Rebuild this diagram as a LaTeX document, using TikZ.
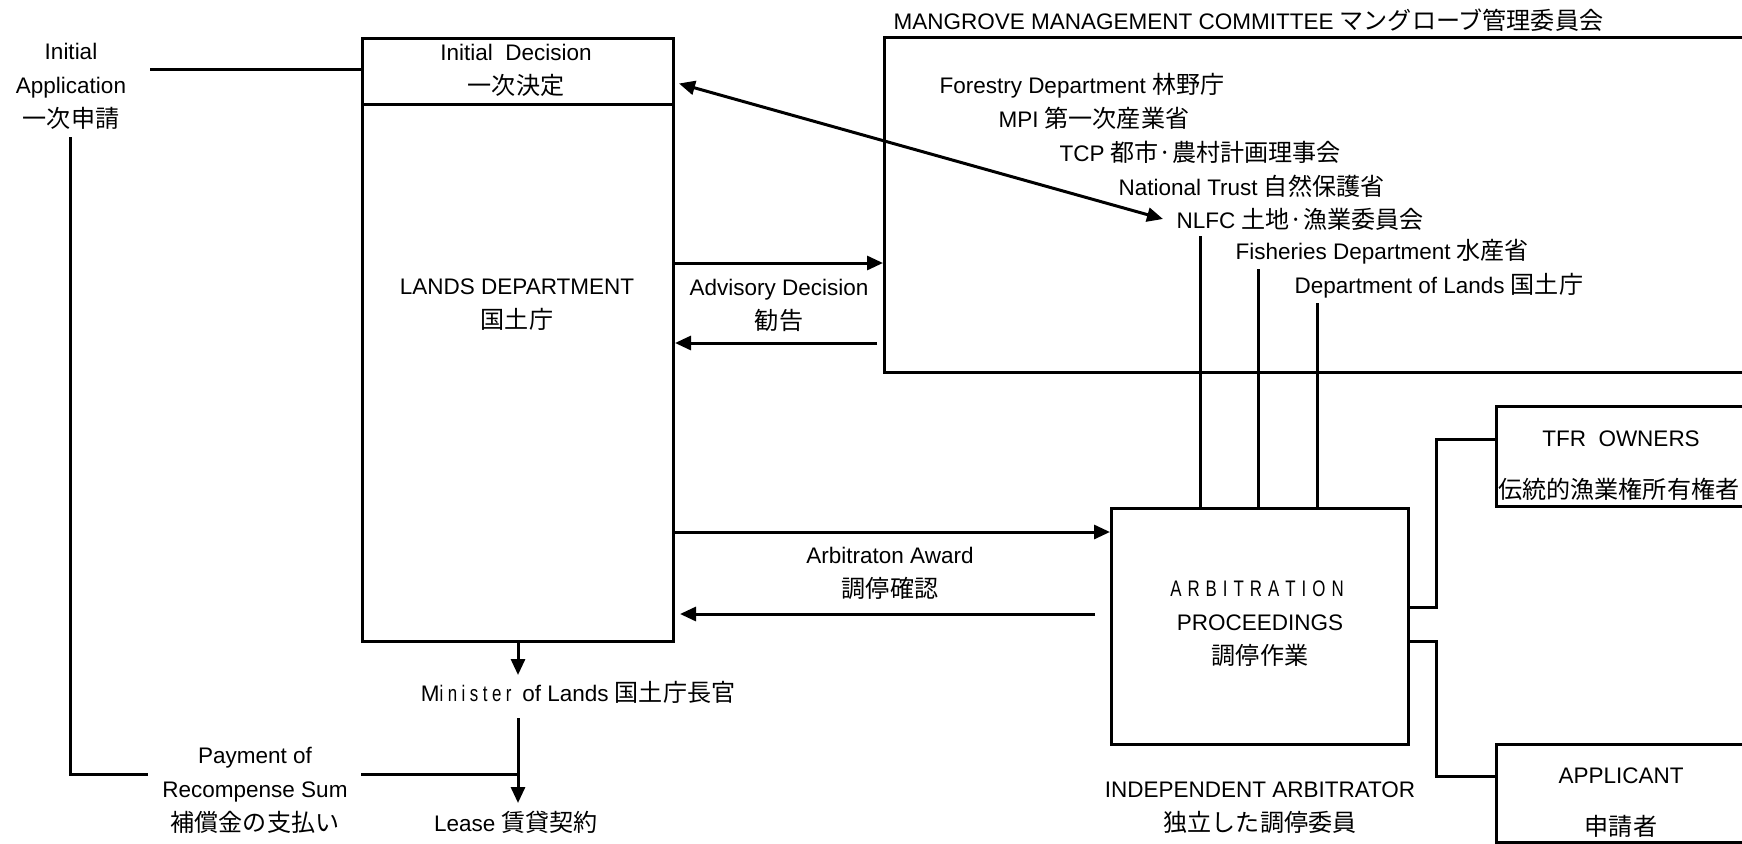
\documentclass[tikz,border=0pt]{standalone}
\usepackage{fontspec}
\setmainfont{Liberation Sans}
\newfontfamily\jpfont{Noto Sans CJK JP}[Scale=1.07]
\newfontfamily\narrowfont{Liberation Sans}[FakeStretch=0.75]
\usetikzlibrary{arrows.meta,calc}

% Japanese text run
\newcommand\jtext[1]{{\jpfont #1}}
% letter-spaced word: \trk{kern}{letters}
\def\trkloop#1{\ifx#1\relax\else#1\kern\trkk\expandafter\trkloop\fi}
\newcommand\trk[2]{\def\trkk{#1}\trkloop#2\relax}

\begin{document}
\begin{tikzpicture}[x=1pt,y=-1pt,
  font=\fontsize{22.5pt}{34pt}\selectfont,
  line width=3pt,
  box/.style={draw, line width=3pt, rectangle, inner sep=0pt, anchor=north west},
  lbl/.style={inner sep=0pt, align=center},
  arr/.style={-{Triangle[length=16pt,width=14pt]}},
  biarr/.style={{Triangle[length=16pt,width=14pt]}-{Triangle[length=16pt,width=14pt]}},
]
\useasboundingbox (0,0) rectangle (1742,843);
\fill[white] (0,0) rectangle (1742,843);
\clip (0,0) rectangle (1742,843);

% ---- Lands Department with its header ----
\node[box, minimum width=311pt, minimum height=603pt] (lands) at (361,37) {};
\node[box, minimum width=311pt, minimum height=66pt] (initdec) at (361,37) {};
\node[lbl] (initdectxt) at (516,70) {Initial~~Decision\\\jtext{一次決定}};
\node[lbl] (landstxt) at (517,305) {LANDS DEPARTMENT\\\jtext{国土庁}};

% ---- Mangrove Management Committee ----
\node[box, minimum width=1000pt, minimum height=335pt] (mgmt) at (883,36) {};
\node[lbl, anchor=west] (mgmttitle) at (892,20) {MANGROVE MANAGEMENT COMMITTEE \jtext{マングローブ管理委員会}};
\node[lbl, anchor=west] (forestry) at (938,86) {Forestry Department \jtext{林野庁}};
\node[lbl, anchor=west] (mpi) at (997,118) {MPI \jtext{第一次産業省}};
\node[lbl, anchor=west] (tcp) at (1058,152) {TCP \jtext{都市·農村計画理事会}};
\node[lbl, anchor=west] (trust) at (1117,186) {National Trust \jtext{自然保護省}};
\node[lbl, anchor=west] (nlfc) at (1175,219) {NLFC \jtext{土地·漁業委員会}};
\node[lbl, anchor=west] (fish) at (1234,252) {Fisheries Department \jtext{水産省}};
\node[lbl, anchor=west] (dol) at (1293,286) {Department of Lands \jtext{国土庁}};

% ---- Arbitration ----
\node[box, minimum width=297pt, minimum height=236pt] (arb) at (1110,507) {};
\node[lbl] (arbtxt) at (1260,624) {{\narrowfont\trk{6pt}{ARBITRATION}}\\PROCEEDINGS\\\jtext{調停作業}};
\node[lbl] (indep) at (1260,808) {INDEPENDENT ARBITRATOR\\\jtext{独立した調停委員}};

% ---- Parties ----
\node[box, minimum width=400pt, minimum height=100pt] (tfr) at (1495,405) {};
\node[lbl] (tfrname) at (1621,439) {TFR~~OWNERS};
\node[lbl, anchor=west] (tfrja) at (1497,489) {\jtext{伝統的漁業権所有権者}};
\node[box, minimum width=400pt, minimum height=98pt] (applicant) at (1495,743) {};
\node[lbl] (appname) at (1621,776) {APPLICANT};
\node[lbl] (appja) at (1621,826) {\jtext{申請者}};

% ---- Free labels ----
\node[lbl] (initapp) at (71,86) {Initial\\Application\\\jtext{一次申請}};
\node[lbl] (advisory) at (779,305) {Advisory Decision\\\jtext{勧告}};
\node[lbl] (award) at (890,573) {Arbitraton Award\\\jtext{調停確認}};
\node[lbl] (minister) at (578,692) {M{\narrowfont\trk{4.5pt}{inister}} of Lands \jtext{国土庁長官}};
\node[lbl] (lease) at (516,822) {Lease \jtext{賃貸契約}};
\node[lbl] (payment) at (255,790) {Payment of\\Recompense Sum\\\jtext{補償金の支払い}};

% ---- Connector levels ----
\coordinate (appOut) at (150,70);
\coordinate (appDown) at (70,137);
\coordinate (payIn) at (148,774);
\coordinate (payOut) at (361,774);
\coordinate (leaseTop) at (0,718);
\coordinate (leaseTip) at (0,803);
\coordinate (advOut) at (0,263);
\coordinate (advIn) at (0,343);
\coordinate (awOut) at (0,532);
\coordinate (awIn) at (0,614);
\coordinate (busX) at (1436,0);
\coordinate (tfrIn) at (0,439);
\coordinate (arbUp) at (0,607);
\coordinate (arbDown) at (0,641);
\coordinate (appIn) at (0,776);

% application and payment path
\draw (appOut) -- (initdec.west |- appOut);
\draw (appDown) |- (payIn);
\draw (payOut) -- (lands.south |- payOut);

% minister and lease
\draw[arr] (lands.south) -- ++(0,32);
\draw[arr] (lands.south |- leaseTop) -- (lands.south |- leaseTip);

% advisory decision
\draw[arr] (lands.east |- advOut) -- (mgmt.west |- advOut);
\draw[arr] ($(mgmt.west |- advIn)+(-6,0)$) -- (lands.east |- advIn);

% initial decision <-> NLFC
\draw[biarr] ($(initdec.east)+(4,12)$) -- ($(nlfc.west)+(-12,0)$);

% arbitration award
\draw[arr] (lands.east |- awOut) -- (arb.west |- awOut);
\draw[arr] ($(arb.west |- awIn)+(-15,0)$) -- ($(lands.east |- awIn)+(5,0)$);

% committee members feeding the arbitration
\coordinate (nlfcDrop) at ($(nlfc.west)+(25,17)$);
\coordinate (fishDrop) at ($(fish.west)+(24,17)$);
\coordinate (dolDrop) at ($(dol.west)+(24,17)$);
\draw (nlfcDrop) -- (arb.north -| nlfcDrop);
\draw (fishDrop) -- (arb.north -| fishDrop);
\draw (dolDrop) -- (arb.north -| dolDrop);

% arbitration to the parties
\draw (arb.east |- arbUp) -| (busX |- tfrIn) -- (tfr.west |- tfrIn);
\draw (arb.east |- arbDown) -| (busX |- appIn) -- (applicant.west |- appIn);
\end{tikzpicture}
\end{document}
